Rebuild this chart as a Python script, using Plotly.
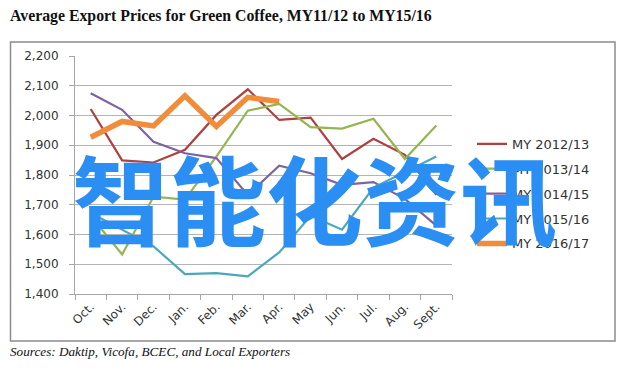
import plotly.graph_objects as go

months = ["Oct.", "Nov.", "Dec.", "Jan.", "Feb.", "Mar.", "Apr.", "May", "Jun.", "Jul.", "Aug.", "Sept."]
my1213 = [2022, 1849, 1842, 1885, 2002, 2088, 1985, 1993, 1854, 1922, 1868, 1733]
my1314 = [1662, 1533, 1727, 1717, 1862, 2016, 2039, 1961, 1956, 1989, 1854, 1966]
my1415 = [2075, 2019, 1912, 1873, 1857, 1733, 1831, 1806, 1767, 1776, 1720, 1630]
my1516 = [1672, 1615, 1560, 1467, 1470, 1459, 1540, 1663, 1616, 1758, 1810, 1862]
my1617 = [1927, 1980, 1965, 2066, 1963, 2061, 2047, None, None, None, None, None]

series_names = ["MY 2012/13", "MY 2013/14", "MY 2014/15", "MY 2015/16", "MY 2016/17"]
series_vals = [my1213, my1314, my1415, my1516, my1617]
colors = ["#B0403E", "#94B553", "#7D63A0", "#4BA8BC", "#F08C3A"]
widths = [2.2, 2.2, 2.2, 2.2, 5.5]

title_text = "Average Export Prices for Green Coffee, MY11/12 to MY15/16"
source_text = "Sources: Daktip, Vicofa, BCEC, and Local Exporters"
watermark = "智能化资讯"

OFF = 8  # page body margin
W, H = 628 - OFF, 372 - OFF
# plot area in page pixels
L, R, T, B = 75, 452, 56, 294.5

def px_x(x):
    return (x - L) / (R - L)

def px_y(y):
    return (B - y) / (B - T)

fig = go.Figure()
for i, (name, vals) in enumerate(zip(series_names, series_vals)):
    fig.add_trace(go.Scatter(
        x=months, y=vals, name=name, mode="lines",
        line=dict(color=colors[i], width=widths[i]),
        legendgroup=name, connectgaps=False,
    ))

axis_font = dict(family="DejaVu Sans, Verdana, sans-serif", size=12, color="#333333")

fig.update_layout(
    width=W, height=H, autosize=False,
    margin=dict(l=L - OFF, r=628 - R, t=T - OFF, b=372 - B, pad=0),
    paper_bgcolor="white", plot_bgcolor="white",
    showlegend=True,
    legend=dict(
        x=px_x(472), y=px_y(129), xanchor="left", yanchor="top",
        font=dict(family="DejaVu Sans, Verdana, sans-serif", size=13, color="#333333"),
        tracegroupgap=5, bgcolor="rgba(0,0,0,0)",
    ),
    xaxis=dict(
        type="category", tickangle=-45, tickfont=axis_font,
        showline=True, linecolor="#A6A6A6", linewidth=1,
        ticks="outside", tickson="boundaries", ticklen=5, tickcolor="#A6A6A6",
        showgrid=False, range=[-0.5, 11.5],
    ),
    yaxis=dict(
        range=[1400, 2200], dtick=100, tickformat=",", tickfont=axis_font,
        showline=True, linecolor="#A6A6A6", linewidth=1,
        ticks="outside", ticklen=5, tickcolor="#A6A6A6", ticklabelstandoff=8,
        showgrid=True, gridcolor="#B4B4B4", gridwidth=1, zeroline=False,
    ),
)

# outer chart border
fig.add_shape(type="rect", xref="paper", yref="paper",
              x0=px_x(10.5), x1=px_x(615), y0=px_y(341.5), y1=px_y(42),
              line=dict(color="#8C8C8C", width=1.5), fillcolor="rgba(0,0,0,0)", layer="below")

fig.add_annotation(text="<b>" + title_text + "</b>", xref="paper", yref="paper",
                   x=px_x(8), y=px_y(16), xanchor="left", yanchor="middle", showarrow=False,
                   font=dict(family="Liberation Serif, Times New Roman, serif", size=15.8, color="#111111"))

fig.add_annotation(text="<i>" + source_text + "</i>", xref="paper", yref="paper",
                   x=px_x(8), y=px_y(352), xanchor="left", yanchor="middle", showarrow=False,
                   font=dict(family="Liberation Serif, Times New Roman, serif", size=13.2, color="#111111"))

fig.add_annotation(text="<b>" + watermark + "</b>", xref="paper", yref="paper",
                   x=px_x(314), y=px_y(196), xanchor="center", yanchor="middle", showarrow=False,
                   font=dict(family="Noto Sans CJK SC", size=97, color="#2B8EF2"))

fig.write_html("out.html")
